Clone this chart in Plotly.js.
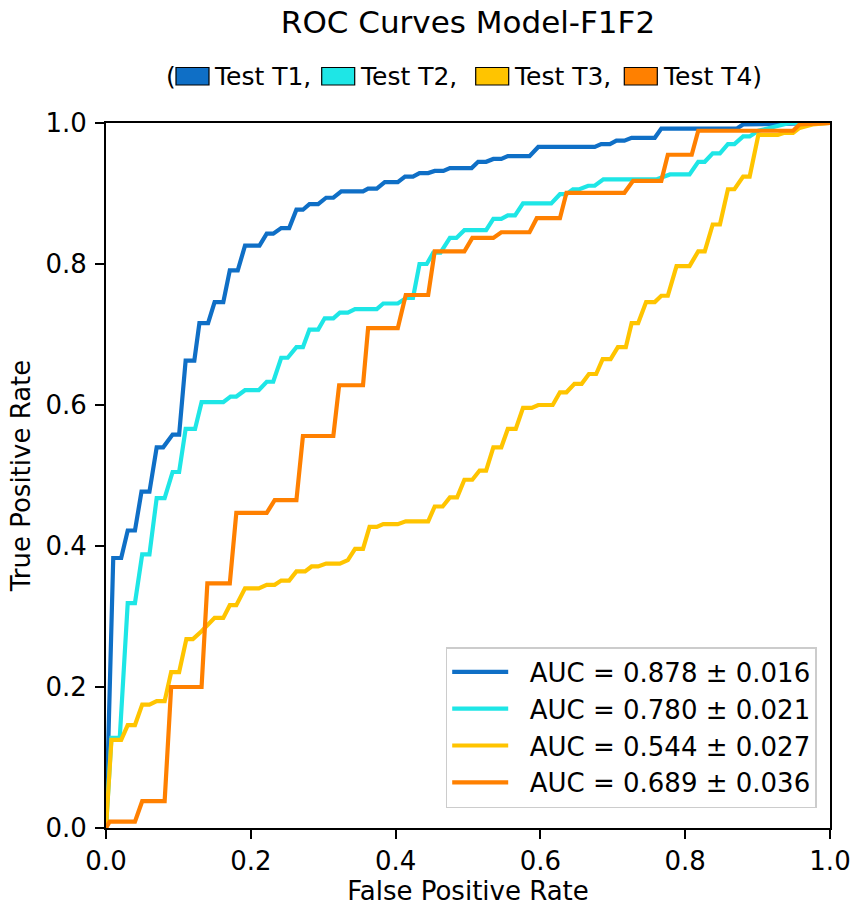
<!DOCTYPE html>
<html>
<head>
<meta charset="utf-8">
<script src="https://cdn.plot.ly/plotly-3.0.1.min.js"></script>
<style>html,body{margin:0;padding:0;background:#fff;}#chart{width:853px;height:908px;}</style>
</head>
<body>
<div id="chart"></div>
<script>
// ---- data (mean ROC curves) ----
const seriesNames = ["Test T1", "Test T2", "Test T3", "Test T4"];
const legendLabels = ["AUC = 0.878 ± 0.016", "AUC = 0.780 ± 0.021", "AUC = 0.544 ± 0.027", "AUC = 0.689 ± 0.036"];
const colors = ["#0f6fc6", "#1ee6e6", "#ffc400", "#ff8000"];

const fpr_t1 = [0, 0.010, 0.021, 0.030, 0.040, 0.049, 0.060, 0.070, 0.079, 0.092, 0.101, 0.110, 0.122, 0.129, 0.141, 0.150, 0.162, 0.171, 0.182, 0.192, 0.212, 0.222, 0.231, 0.242, 0.253, 0.263, 0.272, 0.281, 0.293, 0.304, 0.314, 0.325, 0.355, 0.362, 0.374, 0.385, 0.403, 0.413, 0.424, 0.433, 0.445, 0.454, 0.466, 0.475, 0.505, 0.514, 0.525, 0.535, 0.546, 0.555, 0.585, 0.597, 0.675, 0.684, 0.696, 0.705, 0.716, 0.726, 0.758, 0.767, 0.871, 0.880, 1.0];
const tpr_t1 = [0, 0.383, 0.383, 0.422, 0.422, 0.477, 0.477, 0.540, 0.540, 0.558, 0.558, 0.663, 0.663, 0.716, 0.716, 0.746, 0.746, 0.791, 0.791, 0.826, 0.826, 0.843, 0.843, 0.851, 0.851, 0.877, 0.877, 0.885, 0.885, 0.894, 0.894, 0.903, 0.903, 0.907, 0.907, 0.916, 0.916, 0.924, 0.924, 0.929, 0.929, 0.932, 0.932, 0.936, 0.936, 0.945, 0.945, 0.949, 0.949, 0.953, 0.953, 0.966, 0.966, 0.970, 0.970, 0.975, 0.975, 0.979, 0.979, 0.992, 0.992, 0.998, 1.0];

const fpr_t2 = [0, 0.0075, 0.019, 0.030, 0.040, 0.050, 0.060, 0.070, 0.081, 0.092, 0.101, 0.110, 0.123, 0.132, 0.162, 0.172, 0.180, 0.192, 0.211, 0.222, 0.231, 0.242, 0.251, 0.263, 0.272, 0.281, 0.293, 0.302, 0.314, 0.323, 0.334, 0.344, 0.374, 0.383, 0.403, 0.415, 0.424, 0.433, 0.443, 0.452, 0.462, 0.475, 0.484, 0.495, 0.525, 0.535, 0.546, 0.555, 0.565, 0.576, 0.615, 0.627, 0.636, 0.645, 0.654, 0.666, 0.675, 0.687, 0.760, 0.779, 0.806, 0.818, 0.827, 0.838, 0.848, 0.859, 0.868, 0.880, 0.889, 0.901, 0.944, 1.0];
const tpr_t2 = [0, 0.128, 0.128, 0.319, 0.319, 0.388, 0.388, 0.468, 0.468, 0.505, 0.505, 0.566, 0.566, 0.604, 0.604, 0.612, 0.612, 0.621, 0.621, 0.633, 0.633, 0.667, 0.667, 0.682, 0.682, 0.707, 0.707, 0.723, 0.723, 0.731, 0.731, 0.736, 0.736, 0.744, 0.744, 0.752, 0.752, 0.800, 0.800, 0.816, 0.816, 0.837, 0.837, 0.848, 0.848, 0.864, 0.864, 0.869, 0.869, 0.886, 0.886, 0.899, 0.899, 0.906, 0.906, 0.911, 0.911, 0.920, 0.920, 0.927, 0.927, 0.945, 0.945, 0.957, 0.957, 0.970, 0.970, 0.981, 0.981, 0.989, 1.0, 1.0];

const fpr_t3 = [0, 0.0075, 0.021, 0.030, 0.040, 0.050, 0.060, 0.070, 0.081, 0.090, 0.101, 0.111, 0.120, 0.132, 0.150, 0.162, 0.171, 0.180, 0.192, 0.211, 0.222, 0.233, 0.242, 0.253, 0.263, 0.275, 0.284, 0.293, 0.304, 0.323, 0.334, 0.344, 0.355, 0.364, 0.374, 0.383, 0.403, 0.414, 0.445, 0.454, 0.465, 0.475, 0.485, 0.495, 0.506, 0.516, 0.525, 0.535, 0.546, 0.555, 0.566, 0.576, 0.588, 0.597, 0.617, 0.627, 0.636, 0.647, 0.657, 0.667, 0.677, 0.686, 0.697, 0.707, 0.718, 0.726, 0.735, 0.746, 0.758, 0.767, 0.776, 0.788, 0.806, 0.818, 0.827, 0.838, 0.848, 0.859, 0.868, 0.880, 0.889, 0.901, 0.928, 0.937, 0.949, 0.958, 0.976, 1.0];
const tpr_t3 = [0, 0.125, 0.125, 0.146, 0.146, 0.175, 0.175, 0.180, 0.180, 0.221, 0.221, 0.268, 0.268, 0.279, 0.298, 0.298, 0.316, 0.316, 0.340, 0.340, 0.345, 0.345, 0.351, 0.351, 0.364, 0.364, 0.371, 0.371, 0.375, 0.375, 0.380, 0.396, 0.396, 0.427, 0.427, 0.431, 0.431, 0.435, 0.435, 0.456, 0.456, 0.469, 0.469, 0.494, 0.494, 0.507, 0.507, 0.540, 0.540, 0.566, 0.566, 0.596, 0.596, 0.600, 0.600, 0.618, 0.618, 0.630, 0.630, 0.644, 0.644, 0.665, 0.665, 0.682, 0.682, 0.716, 0.716, 0.746, 0.746, 0.755, 0.755, 0.797, 0.797, 0.818, 0.818, 0.856, 0.856, 0.906, 0.906, 0.924, 0.924, 0.983, 0.983, 0.986, 0.986, 0.993, 0.998, 1.0];

const fpr_t4 = [0, 0.005, 0.040, 0.050, 0.081, 0.090, 0.132, 0.140, 0.171, 0.180, 0.222, 0.233, 0.263, 0.272, 0.314, 0.322, 0.355, 0.362, 0.403, 0.414, 0.445, 0.454, 0.495, 0.506, 0.535, 0.546, 0.585, 0.595, 0.627, 0.636, 0.716, 0.728, 0.767, 0.776, 0.809, 0.818, 0.949, 0.958, 1.0];
const tpr_t4 = [0, 0.009, 0.009, 0.038, 0.038, 0.200, 0.200, 0.347, 0.347, 0.447, 0.447, 0.465, 0.465, 0.556, 0.556, 0.628, 0.628, 0.709, 0.709, 0.756, 0.756, 0.818, 0.818, 0.837, 0.837, 0.845, 0.845, 0.865, 0.865, 0.901, 0.901, 0.918, 0.918, 0.955, 0.955, 0.989, 0.989, 0.998, 1.0];

const tickVals = [0, 0.2, 0.4, 0.6, 0.8, 1.0];
const tickText = ["0.0", "0.2", "0.4", "0.6", "0.8", "1.0"];

// ---- build ----
const FONT = "DejaVu Sans, Liberation Sans, sans-serif";
const FS = 26;
const FS_SUB = 25;
const fprs = [fpr_t1, fpr_t2, fpr_t3, fpr_t4];
const tprs = [tpr_t1, tpr_t2, tpr_t3, tpr_t4];

const traces = fprs.map((f, i) => ({
  type: "scatter", mode: "lines",
  x: f, y: tprs[i],
  name: "\u00a0\u00a0" + legendLabels[i],
  legendgroup: "g" + i,
  line: {color: colors[i], width: 4.2},
  hoverinfo: "skip"
}));

// layout geometry helpers (pixel -> paper)
const W = 853, H = 908, ML = 106, MR = 23, MT = 123, MB = 80;
const PW = W - ML - MR, PH = H - MT - MB;
const px = v => (v - ML) / PW;
const py = v => (H - MB - v) / PH;

const boxLeft = [176, 321.7, 475.7, 624.3];
const textLeft = [211.5, 358, 512, 660.8];
const subtitleParts = ["Test T1,", "Test T2,", "Test T3,", "Test T4)"];
const shapes = [];
const annotations = [];
annotations.push({xref: "paper", yref: "paper", x: px(163.5), y: py(76), xanchor: "left", yanchor: "middle",
  text: "(", showarrow: false, font: {family: FONT, size: FS_SUB, color: "#000"}});
for (let i = 0; i < 4; i++) {
  shapes.push({type: "rect", xref: "paper", yref: "paper",
    x0: px(boxLeft[i]), x1: px(boxLeft[i] + 33), y0: py(85), y1: py(67.5),
    fillcolor: colors[i], line: {color: "#000", width: 1.2}, layer: "above"});
  annotations.push({xref: "paper", yref: "paper", x: px(textLeft[i]), y: py(76), xanchor: "left", yanchor: "middle",
    text: subtitleParts[i], showarrow: false, font: {family: FONT, size: FS_SUB, color: "#000"}});
}

const axisCommon = {
  range: [0, 1], tickvals: tickVals, ticktext: tickText,
  showgrid: false, zeroline: false,
  showline: true, mirror: true, linecolor: "#000", linewidth: 2,
  ticks: "outside", ticklen: 9, tickwidth: 2, tickcolor: "#000",
  tickfont: {family: FONT, size: FS, color: "#000"},
  fixedrange: true
};

const layout = {
  width: W, height: H,
  margin: {l: ML, r: MR, t: MT, b: MB, pad: 0},
  paper_bgcolor: "#fff", plot_bgcolor: "#fff",
  font: {family: FONT, size: FS, color: "#000"},
  title: {text: "ROC Curves Model-F1F2", font: {family: FONT, size: 31, color: "#000"},
    x: px(468), xref: "paper", xanchor: "center", y: 1 - 22.5 / H, yref: "container", yanchor: "middle"},
  xaxis: Object.assign({}, axisCommon, {
    title: {text: "False Positive Rate", font: {family: FONT, size: FS, color: "#000"}, standoff: 7}}),
  yaxis: Object.assign({}, axisCommon, {
    ticklabelstandoff: 3,
    title: {text: "True Positive Rate", font: {family: FONT, size: FS, color: "#000"}, standoff: 7}}),
  showlegend: true,
  legend: {
    x: px(816.7), xanchor: "right", y: py(808), yanchor: "bottom",
    bgcolor: "#fff", bordercolor: "#cccccc", borderwidth: 1.5,
    font: {family: FONT, size: FS, color: "#000"},
    itemwidth: 56, traceorder: "grouped", tracegroupgap: 0
  },
  shapes: shapes,
  annotations: annotations
};

Plotly.newPlot("chart", traces, layout, {displayModeBar: false, staticPlot: true});
</script>
</body>
</html>
